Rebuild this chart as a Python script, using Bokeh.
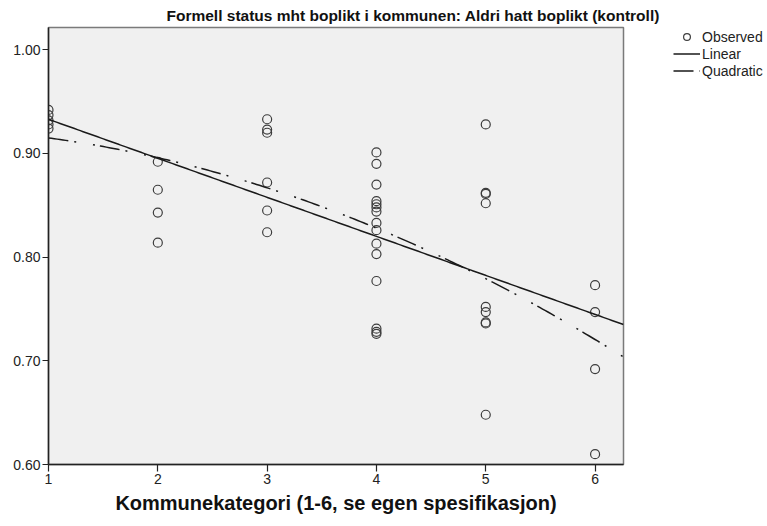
from bokeh.plotting import figure
from bokeh.models import Legend, LegendItem, FixedTicker, NumeralTickFormatter, Range1d
from bokeh.embed import file_html
from bokeh.resources import INLINE
import numpy as np

# ---- data ----
kategori = [1, 1, 1, 1, 1,
            2, 2, 2, 2,
            3, 3, 3, 3, 3, 3,
            4, 4, 4, 4, 4, 4, 4, 4, 4, 4, 4, 4, 4, 4, 4,
            5, 5, 5, 5, 5, 5, 5, 5, 5,
            6, 6, 6, 6]
andel = [0.942, 0.937, 0.932, 0.928, 0.924,
         0.892, 0.865, 0.843, 0.814,
         0.933, 0.923, 0.920, 0.872, 0.845, 0.824,
         0.901, 0.890, 0.870, 0.854, 0.851, 0.848, 0.844, 0.833, 0.826, 0.813, 0.803, 0.777, 0.731, 0.728, 0.726,
         0.928, 0.862, 0.861, 0.852, 0.752, 0.747, 0.737, 0.736, 0.648,
         0.773, 0.747, 0.692, 0.610]
linear_coef = [0.9706, -0.03764]              # a + b*x
quadratic_coef = [0.9242, -0.00426, -0.004947]  # a + b*x + c*x^2
x_ticks = [1, 2, 3, 4, 5, 6]
y_ticks = [0.60, 0.70, 0.80, 0.90, 1.00]
title_text = "Formell status mht boplikt i kommunen: Aldri hatt boplikt (kontroll)"
x_label = "Kommunekategori (1-6, se egen spesifikasjon)"

X_MIN, X_MAX = 1.0, 6.26
Y_MIN, Y_MAX = 0.60, 1.0215

FONT = "Liberation Sans"
FRAME_W, FRAME_H = 575, 437

p = figure(frame_width=FRAME_W, frame_height=FRAME_H,
           x_range=Range1d(X_MIN, X_MAX), y_range=Range1d(Y_MIN, Y_MAX),
           output_backend="svg", toolbar_location=None,
           min_border_left=48, min_border_right=136, min_border_top=27, min_border_bottom=50,
           border_fill_color="white")

p.background_fill_color = "#F0F0F0"
p.outline_line_color = "#7a7a7a"
p.outline_line_width = 1.5
p.xgrid.visible = False
p.ygrid.visible = False

# title
p.title.text = title_text
p.title.align = "left"
p.title.offset = 118
p.title.standoff = 7
p.title.text_font = FONT
p.title.text_font_size = "15.5px"
p.title.text_font_style = "bold"
p.title.text_color = "#111111"

# axes
for ax in (p.xaxis[0], p.yaxis[0]):
    ax.axis_line_color = "#222222"
    ax.axis_line_width = 1.5
    ax.major_tick_line_color = "#222222"
    ax.major_tick_line_width = 1.2
    ax.major_tick_in = 0
    ax.major_tick_out = 7
    ax.minor_tick_line_color = None
    ax.major_label_text_font = FONT
    ax.major_label_text_font_size = "14px"
    ax.major_label_text_color = "#222222"
    ax.major_label_standoff = 2

p.xaxis.ticker = FixedTicker(ticks=x_ticks)
p.yaxis.ticker = FixedTicker(ticks=y_ticks)
p.yaxis.formatter = NumeralTickFormatter(format="0.00")
p.yaxis.major_tick_out = 6

p.xaxis.axis_label = x_label
p.xaxis.axis_label_text_font = FONT
p.xaxis.axis_label_text_font_size = "20px"
p.xaxis.axis_label_text_font_style = "bold"
p.xaxis.axis_label_text_color = "#111111"
p.xaxis.axis_label_standoff = 5

# fitted curves
xs = np.linspace(X_MIN, X_MAX, 200)
lin_y = linear_coef[0] + linear_coef[1] * xs
quad_y = quadratic_coef[0] + quadratic_coef[1] * xs + quadratic_coef[2] * xs ** 2

obs = p.scatter(kategori, andel, marker="circle", size=9, fill_color=None,
                line_color="#3c3c3c", line_width=1.2)
lin = p.line(xs, lin_y, line_color="#1a1a1a", line_width=1.5)
quad = p.line(xs, quad_y, line_color="#1a1a1a", line_width=1.5, line_dash="20 6 2 17 2 5")

legend = Legend(items=[LegendItem(label="Observed", renderers=[obs]),
                       LegendItem(label="Linear", renderers=[lin]),
                       LegendItem(label="Quadratic", renderers=[quad])],
                location=(50, FRAME_H - 52))
legend.border_line_alpha = 0
legend.background_fill_alpha = 0
legend.padding = 0
legend.margin = 0
legend.spacing = 0
legend.glyph_width = 27
legend.glyph_height = 17
legend.label_height = 17
legend.label_standoff = 2
legend.label_text_font = FONT
legend.label_text_font_size = "14px"
legend.label_text_color = "#222222"
p.add_layout(legend, "right")

open("out.html", "w").write(file_html(p, INLINE))
